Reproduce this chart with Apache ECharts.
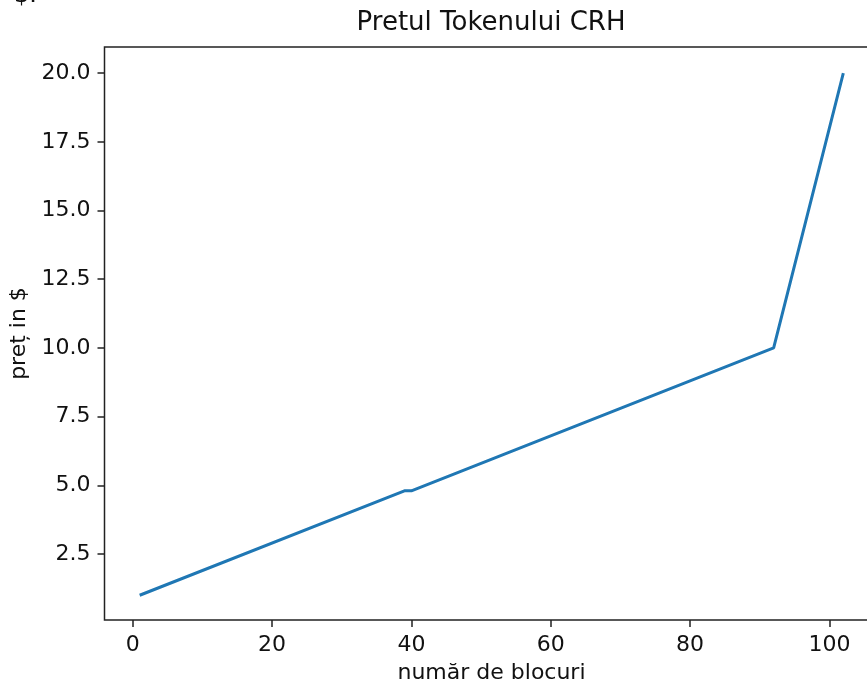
<!DOCTYPE html>
<html>
<head>
<meta charset="utf-8">
<script src="https://cdn.jsdelivr.net/npm/echarts@6/dist/echarts.min.js"></script>
<style>
  html, body { margin: 0; padding: 0; background: #fff; }
  #chart { width: 867px; height: 682px; }
</style>
</head>
<body>
<div id="chart"></div>
<script>
// block number -> token price ($) at the corners of the line
const blocks = [1, 39, 40, 92, 102];
const prices = [1.0, 4.8, 4.8, 10.0, 20.0];

const xTicks = [0, 20, 40, 60, 80, 100];
const yTicks = [2.5, 5.0, 7.5, 10.0, 12.5, 15.0, 17.5, 20.0];

const FONT = '"DejaVu Sans", sans-serif';
const INK = '#111';

const chart = echarts.init(document.getElementById('chart'));

chart.setOption({
  animation: false,
  title: {
    text: 'Pretul Tokenului CRH',
    left: 486,
    top: 5,
    textAlign: 'center',
    textStyle: { fontFamily: FONT, fontSize: 26, fontWeight: 'normal', color: INK }
  },
  graphic: [{
    type: 'text',
    left: 14,
    top: -16,
    style: { text: '$.', font: '24px "DejaVu Sans"', fill: INK }
  }],
  grid: {
    left: 104.5,
    top: 47,
    width: 774,
    height: 573,
    outerBoundsMode: 'none',
    show: true,
    borderColor: '#222',
    borderWidth: 1.5
  },
  xAxis: {
    type: 'value',
    min: -4.05,
    max: 107.05,
    name: 'număr de blocuri',
    nameLocation: 'middle',
    nameGap: 42,
    nameTextStyle: { fontFamily: FONT, fontSize: 22, color: INK },
    axisLine: { show: false, onZero: false },
    axisTick: { show: true, length: 7, lineStyle: { color: '#222', width: 1.5 }, customValues: xTicks },
    axisLabel: { fontFamily: FONT, fontSize: 22, color: INK, margin: 14, customValues: xTicks },
    splitLine: { show: false }
  },
  yAxis: {
    type: 'value',
    min: 0.1,
    max: 20.95,
    name: 'preț in $',
    nameLocation: 'middle',
    nameGap: 74,
    nameTextStyle: { fontFamily: FONT, fontSize: 22, color: INK },
    axisLine: { show: false, onZero: false },
    axisTick: { show: true, length: 7, lineStyle: { color: '#222', width: 1.5 }, customValues: yTicks },
    axisLabel: {
      fontFamily: FONT, fontSize: 22, color: INK, margin: 14,
      customValues: yTicks,
      formatter: v => v.toFixed(1)
    },
    splitLine: { show: false }
  },
  series: [{
    type: 'line',
    data: blocks.map((b, i) => [b, prices[i]]),
    symbol: 'none',
    lineStyle: { color: '#1f77b4', width: 3 }
  }]
});
</script>
</body>
</html>
